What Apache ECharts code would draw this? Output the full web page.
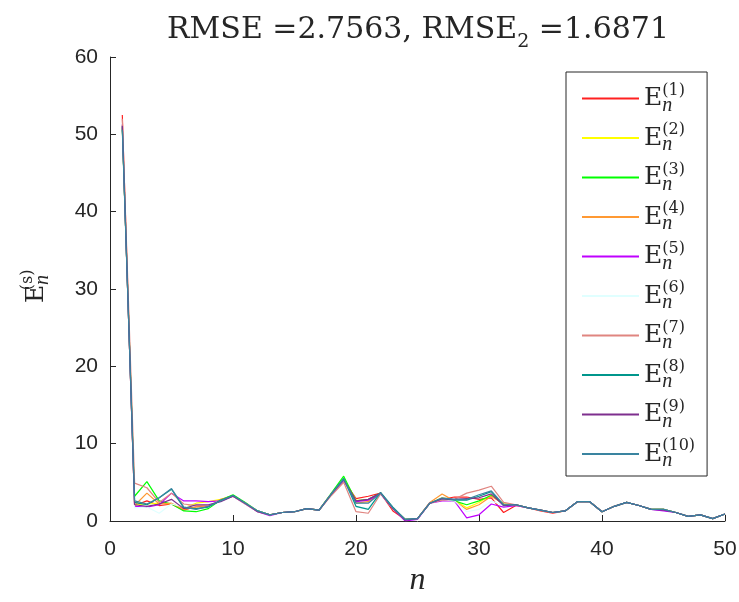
<!DOCTYPE html>
<html>
<head>
<meta charset="utf-8">
<script src="https://cdn.jsdelivr.net/npm/echarts@6/dist/echarts.min.js"></script>
<style>
  html, body { margin: 0; padding: 0; background: #fff; }
  #main { width: 739px; height: 602px; }
</style>
</head>
<body>
<div id="main"></div>
<script>
// index n = 1..50
var nValues = [1,2,3,4,5,6,7,8,9,10,11,12,13,14,15,16,17,18,19,20,21,22,23,24,25,26,27,28,29,30,31,32,33,34,35,36,37,38,39,40,41,42,43,44,45,46,47,48,49,50];

// E_n^(s) for s = 1..10
var e1  = [52.5,2.0,2.6,2.0,2.2,1.4,1.9,1.9,2.7,3.3,2.3,1.3,0.8,1.1,1.2,1.6,1.4,3.5,5.3,2.9,3.2,3.6,1.3,0.2,0.3,2.3,2.8,3.1,3.1,2.8,3.0,1.1,2.0,1.7,1.3,1.0,1.3,2.5,2.5,1.2,1.9,2.4,2.0,1.5,1.5,1.1,0.6,0.8,0.3,0.9];
var e2  = [51.2,2.1,2.2,2.3,2.2,1.7,2.3,2.5,2.8,3.3,2.3,1.3,0.8,1.1,1.2,1.6,1.4,3.5,5.4,2.7,2.6,3.6,1.7,0.2,0.3,2.3,3.0,2.7,1.7,2.4,3.4,2.2,2.1,1.7,1.4,1.1,1.3,2.5,2.5,1.2,1.9,2.4,2.0,1.5,1.5,1.1,0.6,0.8,0.3,0.9];
var e3  = [50.8,3.2,5.1,2.6,2.2,1.3,1.2,1.6,2.7,3.4,2.4,1.3,0.8,1.1,1.2,1.6,1.4,3.6,5.8,2.6,2.8,3.6,1.6,0.2,0.3,2.3,2.9,2.6,2.1,2.6,3.3,2.2,2.1,1.7,1.4,1.1,1.3,2.5,2.5,1.2,1.9,2.4,2.0,1.5,1.5,1.1,0.6,0.8,0.3,0.9];
var e4  = [51.0,2.0,3.6,2.2,2.3,1.5,1.8,1.9,2.8,3.2,2.3,1.3,0.8,1.1,1.2,1.6,1.4,3.5,5.3,2.3,2.5,3.6,1.6,0.2,0.3,2.4,3.5,2.6,1.5,2.1,3.2,2.2,2.1,1.7,1.4,1.1,1.3,2.5,2.5,1.2,1.9,2.4,2.0,1.5,1.5,1.1,0.6,0.8,0.3,0.9];
var e5  = [51.3,1.9,1.8,2.1,3.6,2.6,2.6,2.5,2.6,3.2,2.2,1.2,0.7,1.1,1.2,1.6,1.4,3.4,5.2,2.5,2.7,3.5,1.6,0.0,0.2,2.3,2.6,2.6,0.4,0.8,2.2,1.8,2.0,1.7,1.4,1.1,1.3,2.5,2.5,1.2,1.9,2.4,2.0,1.5,1.3,1.1,0.6,0.8,0.3,0.9];
var e6  = [51.5,1.7,1.8,1.0,2.2,1.8,2.0,2.1,2.6,3.2,2.3,1.3,0.8,1.1,1.2,1.6,1.4,3.5,5.3,1.8,1.7,3.6,1.6,0.2,0.3,2.3,2.8,2.6,1.2,1.5,2.6,2.0,2.1,1.7,1.4,1.1,1.3,2.5,2.5,1.2,1.9,2.4,2.0,1.5,1.5,1.1,0.6,0.8,0.3,0.9];
var e7  = [52.0,4.9,4.3,2.4,3.6,2.2,2.0,2.0,2.6,3.2,2.2,1.2,0.8,1.1,1.2,1.6,1.4,3.3,5.0,1.2,1.0,3.5,1.7,0.2,0.3,2.3,2.7,2.8,3.6,4.0,4.5,2.4,2.1,1.7,1.4,1.1,1.3,2.5,2.5,1.2,1.9,2.4,2.0,1.5,1.5,1.1,0.6,0.8,0.3,0.9];
var e8  = [51.0,2.4,2.1,3.0,4.1,1.7,1.6,1.8,2.7,3.3,2.3,1.3,0.8,1.1,1.2,1.6,1.4,3.5,5.5,1.9,1.5,3.7,1.8,0.2,0.3,2.3,2.9,2.7,2.7,3.2,3.8,2.0,2.1,1.7,1.4,1.1,1.3,2.5,2.5,1.2,1.9,2.4,2.0,1.5,1.5,1.1,0.6,0.8,0.3,0.9];
var e9  = [51.1,2.1,1.9,2.2,2.8,1.6,2.1,2.1,2.5,3.2,2.3,1.2,0.8,1.1,1.2,1.6,1.4,3.5,5.3,2.6,2.8,3.6,1.6,0.1,0.3,2.3,2.9,2.8,2.9,3.0,3.5,2.0,2.1,1.7,1.4,1.1,1.3,2.5,2.5,1.2,1.9,2.4,2.0,1.5,1.4,1.1,0.6,0.8,0.3,0.9];
var e10 = [50.6,2.6,2.2,3.0,4.2,1.8,1.5,1.9,2.6,3.3,2.3,1.3,0.8,1.1,1.2,1.6,1.4,3.5,5.4,2.3,2.3,3.6,1.7,0.2,0.3,2.3,3.0,2.8,2.8,3.4,3.9,2.1,2.1,1.7,1.4,1.1,1.3,2.5,2.5,1.2,1.9,2.4,2.0,1.5,1.5,1.1,0.6,0.8,0.3,0.9];

var seriesNames = ['1','2','3','4','5','6','7','8','9','10'];
var seriesValues = [e1, e2, e3, e4, e5, e6, e7, e8, e9, e10];
var lineColors = ['#ff2020','#ffff00','#00ff00','#ff9933','#bf00ff','#e0ffff','#e08580','#00968c','#7e2f8e','#3a84a0'];

var xTicks = [0, 10, 20, 30, 40, 50];
var yTicks = [0, 10, 20, 30, 40, 50, 60];

var mathFont = 'DejaVu Serif';
var italFont = 'Liberation Serif';
var tickFont = 'Liberation Sans';
var ink = '#262626';

var chart = echarts.init(document.getElementById('main'));

// E with the sup (s) stacked over the sub n: line 1 = sup, line 2 = E + sub
var mathRich = {
  sp:  { fontFamily: mathFont, fontSize: 25, color: 'rgba(0,0,0,0)', height: 14, lineHeight: 14 },
  sup: { fontFamily: mathFont, fontSize: 16, color: ink, height: 14, lineHeight: 14 },
  e:   { fontFamily: mathFont, fontSize: 25, color: ink, height: 2, lineHeight: 2, verticalAlign: 'top' },
  sub: { fontFamily: italFont, fontSize: 20, fontStyle: 'italic', color: ink, height: 16, lineHeight: 16 }
};
function mathLabel(s) {
  return '{sp|E}{sup|(' + s + ')}\n{e|E}{sub|n}';
}

var series = seriesValues.map(function (vals, k) {
  return {
    name: seriesNames[k],
    type: 'line',
    symbol: 'none',
    animation: false,
    data: vals.map(function (v, i) { return [nValues[i], v]; }),
    lineStyle: { color: lineColors[k], width: 1.2 },
    itemStyle: { color: lineColors[k] }
  };
});

chart.setOption({
  backgroundColor: '#fff',
  animation: false,
  title: {
    text: '{a|RMSE =2.7563, RMSE}{b|2}{a| =1.6871}',
    left: 413,
    top: 8,
    textAlign: 'center',
    textStyle: {
      fontWeight: 'normal',
      rich: {
        a: { fontFamily: mathFont, fontSize: 30, fontWeight: 'normal', color: ink, height: 34, lineHeight: 34 },
        b: { fontFamily: mathFont, fontSize: 19, fontWeight: 'normal', color: ink, height: 10, lineHeight: 10, verticalAlign: 'bottom' }
      }
    }
  },
  legend: {
    orient: 'vertical',
    left: 566,
    top: 72,
    padding: [6, 12, 5, 15],
    itemWidth: 57,
    itemHeight: 14,
    itemGap: 2,
    backgroundColor: '#fff',
    borderColor: ink,
    borderWidth: 1,
    borderRadius: 0,
    itemStyle: { opacity: 0 },
    data: seriesNames,
    formatter: function (name) { return mathLabel(name); },
    textStyle: { rich: mathRich }
  },
  grid: {
    left: 110, right: 14, top: 57, bottom: 81,
    containLabel: false, outerBoundsMode: 'none'
  },
  xAxis: {
    type: 'value',
    min: xTicks[0], max: xTicks[xTicks.length - 1], interval: 10,
    name: 'n',
    nameLocation: 'middle',
    nameGap: 40,
    nameTextStyle: { fontFamily: italFont, fontStyle: 'italic', fontSize: 32, color: ink },
    axisLine: { show: true, lineStyle: { color: ink, width: 1 } },
    axisTick: { show: true, inside: true, length: 6, lineStyle: { color: ink } },
    axisLabel: { margin: 18, fontFamily: tickFont, fontSize: 21, color: ink },
    splitLine: { show: false }
  },
  yAxis: {
    type: 'value',
    min: yTicks[0], max: yTicks[yTicks.length - 1], interval: 10,
    name: '{sp|E}{sup|(s)}\n{e|E}{sub|n}',
    nameLocation: 'middle',
    nameRotate: 90,
    nameGap: 59,
    nameTextStyle: { rich: mathRich },
    axisLine: { show: true, lineStyle: { color: ink, width: 1 } },
    axisTick: { show: true, inside: true, length: 6, lineStyle: { color: ink } },
    axisLabel: { margin: 12, fontFamily: tickFont, fontSize: 21, color: ink },
    splitLine: { show: false }
  },
  series: series
});
</script>
</body>
</html>
